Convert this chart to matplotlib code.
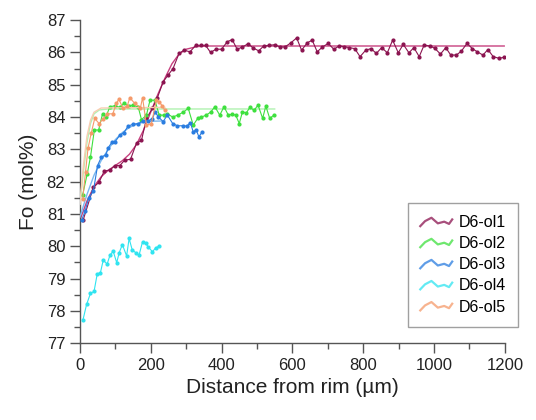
import numpy as np
import matplotlib
matplotlib.use("Agg")
import matplotlib.pyplot as plt
from matplotlib.legend_handler import HandlerBase
from matplotlib.lines import Line2D
from matplotlib.ticker import MultipleLocator

plt.rcParams["font.family"] = ["Liberation Sans", "DejaVu Sans"]

# measured profiles (distance in um, Fo in mol%)
ol1_x = [9, 38, 54, 69, 85, 99, 113, 127, 143, 160, 174, 188, 205, 219, 235, 249, 263, 280, 294, 311,
         327, 341, 355, 369, 384, 400, 416, 430, 444, 459, 475, 489, 505, 519, 534, 550, 565, 579, 596, 612,
         626, 642, 656, 670, 685, 701, 717, 732, 746, 760, 776, 791, 807, 822, 837, 852, 868, 883, 899, 913,
         929, 943, 958, 972, 988, 1002, 1018, 1033, 1047, 1063, 1077, 1093, 1108, 1122, 1138, 1152, 1167, 1183, 1198]
ol1_y = [80.8, 81.82, 81.98, 82.33, 82.36, 82.5, 82.5, 82.67, 82.69, 83.2, 83.28, 83.96, 84.27, 84.6, 85.09, 85.3, 85.5, 85.97, 86.07, 86.02,
         86.22, 86.22, 86.22, 86.0, 86.1, 86.1, 86.33, 86.4, 86.1, 86.17, 86.27, 86.14, 86.05, 86.2, 86.22, 86.24, 86.17, 86.17, 86.3, 86.45,
         86.07, 86.3, 86.38, 86.02, 86.17, 86.28, 86.1, 86.2, 86.18, 86.15, 86.12, 85.87, 86.07, 86.12, 85.97, 86.15, 85.99, 86.38, 85.99, 86.25,
         85.99, 86.15, 85.87, 86.23, 86.2, 86.13, 85.95, 86.15, 85.92, 85.92, 86.04, 86.28, 86.12, 86.02, 85.92, 86.09, 85.87, 85.82, 85.85]

ol2_x = [8, 21, 30, 41, 53, 64, 73, 85, 99, 113, 124, 138, 151, 165, 174, 188, 198, 212, 224, 237,
         247, 262, 276, 292, 306, 320, 334, 343, 357, 370, 381, 395, 407, 419, 430, 440, 450, 459, 470, 480,
         492, 503, 516, 525, 536, 548]
ol2_y = [81.6, 82.25, 82.77, 83.6, 83.6, 84.1, 84.0, 84.32, 84.35, 84.3, 84.42, 84.35, 84.37, 84.3, 83.92, 84.06, 84.52, 84.52, 84.06, 84.06,
         84.1, 84.0, 84.06, 84.15, 84.27, 83.75, 83.98, 84.0, 84.06, 84.16, 84.32, 84.06, 84.32, 84.06, 84.09, 84.06, 83.8, 84.16, 84.13, 84.3,
         84.21, 84.37, 83.96, 84.34, 83.96, 84.06]

ol3_x = [5, 15, 25, 38, 50, 61, 73, 80, 91, 99, 113, 124, 136, 151, 165, 179, 193, 205, 212, 222,
         235, 247, 262, 275, 290, 302, 312, 320, 328, 336, 346]
ol3_y = [80.8, 81.1, 81.5, 81.7, 82.5, 82.77, 82.82, 83.05, 83.23, 83.23, 83.44, 83.51, 83.72, 83.78, 83.8, 83.88, 83.88, 83.95, 84.16, 84.0,
         83.86, 84.06, 83.8, 83.73, 83.73, 83.72, 83.83, 83.54, 83.61, 83.39, 83.55]

ol4_x = [9, 19, 30, 40, 49, 58, 66, 77, 85, 94, 104, 111, 120, 132, 139, 148, 158, 167, 177, 186, 193, 205, 214, 224]
ol4_y = [77.73, 78.2, 78.54, 78.6, 79.14, 79.18, 79.57, 79.45, 79.72, 79.85, 79.49, 79.8, 80.05, 79.7, 80.24, 79.88, 79.8, 79.72,
         80.14, 80.09, 79.98, 79.83, 79.95, 80.0]

ol5_x = [8, 16, 23, 32, 42, 54, 66, 78, 93, 103, 110, 122, 134, 141, 155, 171, 177, 188, 202, 216, 224, 233, 240]
ol5_y = [81.46, 82.3, 83.03, 83.5, 83.96, 83.8, 83.95, 84.1, 84.1, 84.42, 84.55, 84.27, 84.35, 84.6, 84.42, 84.29, 84.6, 83.75, 83.8,
         84.52, 84.47, 84.34, 84.21]

# diffusion model curves
fit1_x = [0, 20, 40, 60, 80, 100, 120, 140, 160, 180, 200, 220, 240, 260, 280, 300, 330, 360, 1198]
fit1_y = [80.8, 81.4, 81.85, 82.15, 82.35, 82.5, 82.65, 82.85, 83.15, 83.6, 84.15, 84.7, 85.2, 85.65, 85.95, 86.1, 86.18, 86.2, 86.2]
fit2_x = [0, 10, 20, 30, 40, 55, 80, 550]
fit2_y = [81.3, 82.3, 83.2, 83.8, 84.1, 84.22, 84.25, 84.25]
fit3_x = [0, 20, 40, 60, 80, 100, 120, 140, 160, 180, 200, 240]
fit3_y = [80.9, 81.6, 82.2, 82.65, 83.0, 83.3, 83.52, 83.68, 83.78, 83.84, 83.87, 83.88]
fit5_x = [0, 10, 20, 30, 40, 60, 240]
fit5_y = [81.3, 82.5, 83.4, 83.9, 84.15, 84.28, 84.3]

labels = ["D6-ol1", "D6-ol2", "D6-ol3", "D6-ol4", "D6-ol5"]
colors = ["#8b1450", "#3ee03e", "#2a7de0", "#2fe4f0", "#f59a6a"]
fit_colors = ["#c8407f", "#b0f2b0", "#7ab8f0", None, "#f8cdb2"]


class WavyHandler(HandlerBase):
    # little wiggly icon like the original legend
    shape_x = [0.0, 0.15, 0.35, 0.55, 0.75, 0.9, 1.0]
    shape_y = [0.1, 0.55, 0.85, 0.35, 0.5, 0.3, 0.7]

    def create_artists(self, legend, orig_handle, xdescent, ydescent, width, height, fontsize, trans):
        xs = [-xdescent + v * width for v in self.shape_x]
        ys = [-ydescent + v * height for v in self.shape_y]
        line = Line2D(xs, ys, color=orig_handle.get_color(), lw=1.6, alpha=0.75, transform=trans)
        return [line]


fig = plt.figure(figsize=(5.36, 4.2), dpi=100)
ax = fig.add_axes([0.149, 0.183, 0.793, 0.769])

series = [(ol1_x, ol1_y), (ol2_x, ol2_y), (ol3_x, ol3_y), (ol4_x, ol4_y), (ol5_x, ol5_y)]
fits = [(fit1_x, fit1_y), (fit2_x, fit2_y), (fit3_x, fit3_y), None, (fit5_x, fit5_y)]

for i in [3, 4, 1, 2, 0]:
    xs, ys = series[i]
    if fits[i] is not None:
        ax.plot(fits[i][0], fits[i][1], color=fit_colors[i], lw=1.0, zorder=2 + i)
    ax.plot(xs, ys, color=colors[i], lw=0.8, marker="o", ms=2.0, zorder=3 + i)

handles = [Line2D([], [], color=colors[i], label=labels[i]) for i in range(5)]

ax.set_xlim(0, 1200)
ax.set_ylim(77, 87)
ax.xaxis.set_major_locator(MultipleLocator(200))
ax.xaxis.set_minor_locator(MultipleLocator(100))
ax.yaxis.set_major_locator(MultipleLocator(1))
ax.yaxis.set_minor_locator(MultipleLocator(0.5))

for side in ["top", "right"]:
    ax.spines[side].set_visible(False)
for side in ["left", "bottom"]:
    ax.spines[side].set_color("#555555")
    ax.spines[side].set_linewidth(1.0)
ax.tick_params(which="major", direction="out", length=7, width=1.0, color="#555555", labelsize=12, labelcolor="#222222")
ax.tick_params(which="minor", direction="out", length=4, width=1.0, color="#555555")

ax.set_xlabel("Distance from rim (\u00b5m)", fontsize=15, color="#222222", labelpad=4)
ax.set_ylabel("Fo (mol%)", fontsize=15, color="#222222", labelpad=6)

leg = fig.legend(handles=handles, loc="upper right", bbox_to_anchor=(0.981, 0.535),
                 fontsize=11.5, frameon=True, fancybox=False, handlelength=2.0,
                 handler_map={Line2D: WavyHandler()}, borderpad=0.75, labelspacing=0.38,
                 handletextpad=0.4)
leg.get_frame().set_edgecolor("#888888")
leg.get_frame().set_linewidth(1.0)

fig.savefig("out.png", dpi=100)
